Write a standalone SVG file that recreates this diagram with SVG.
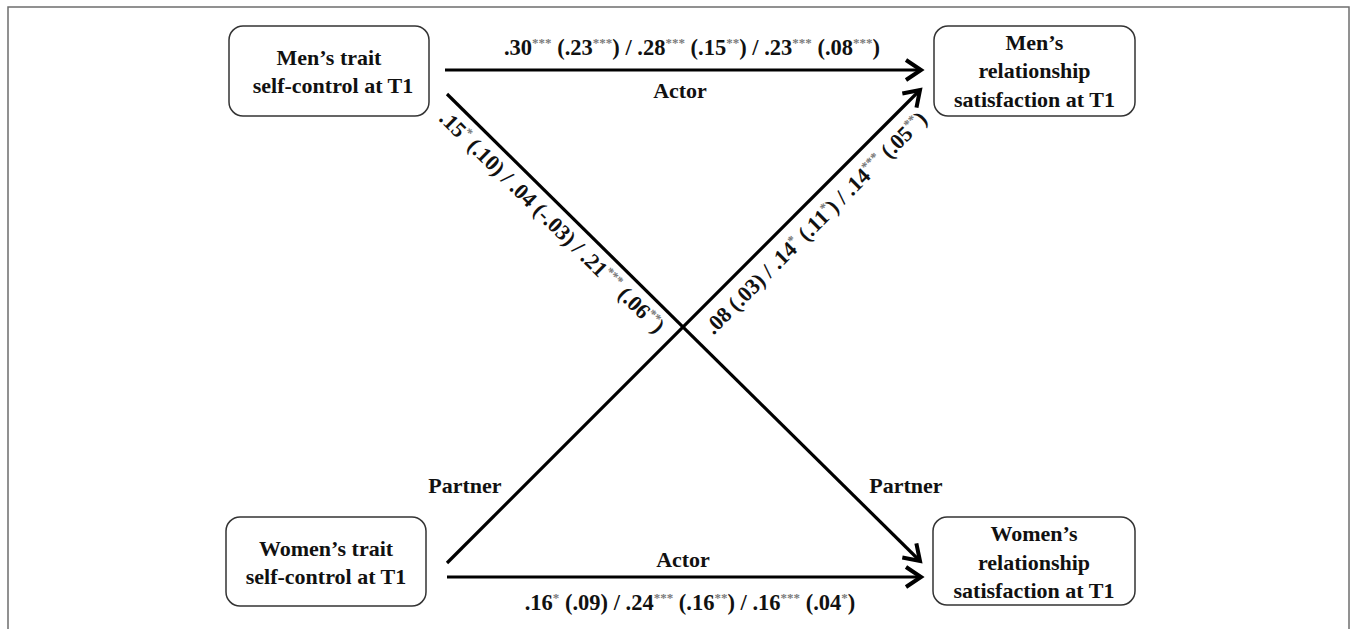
<svg xmlns="http://www.w3.org/2000/svg" width="1357" height="629" viewBox="0 0 1357 629">
<style>
.frame{fill:none;stroke:#6e6e6e;stroke-width:1.5}
.box{fill:#fff;stroke:#333;stroke-width:1.5}
.nt{font-family:"Liberation Serif","Times New Roman",serif;font-weight:bold;font-size:22px;fill:#111;text-anchor:middle}
.lab{font-family:"Liberation Serif","Times New Roman",serif;font-weight:bold;font-size:22px;fill:#111;text-anchor:middle}
.wide{font-size:22.5px}
.sup{font-size:13px;fill:#7a7a7a;baseline-shift:8px}
.ln{stroke:#000;stroke-width:3.2;fill:none}
</style>
<defs>
<marker id="arr" markerUnits="userSpaceOnUse" markerWidth="30" markerHeight="30" refX="0" refY="0" viewBox="-16 -12 20 24" orient="auto" overflow="visible">
<path d="M-12,-8 L0,0 L-12,8" fill="none" stroke="#000" stroke-width="3.2" stroke-linejoin="miter"/>
</marker>
</defs>
<rect class="frame" x="8" y="7" width="1341" height="640"/>
<g id="connectors">
<line class="ln" x1="445" y1="70" x2="921" y2="70" marker-end="url(#arr)"/>
<line class="ln" x1="447" y1="577" x2="921" y2="577" marker-end="url(#arr)"/>
<line class="ln" x1="447" y1="94" x2="920" y2="561" marker-end="url(#arr)"/>
<line class="ln" x1="447" y1="563" x2="920" y2="90" marker-end="url(#arr)"/>
<text class="lab wide" x="692" y="55">.30<tspan class="sup">***</tspan> (.23<tspan class="sup">***</tspan>) / .28<tspan class="sup">***</tspan> (.15<tspan class="sup">**</tspan>) / .23<tspan class="sup">***</tspan> (.08<tspan class="sup">***</tspan>)</text>
<text class="lab" x="680" y="98">Actor</text>
<text class="lab" x="683" y="567">Actor</text>
<text class="lab wide" x="690" y="610">.16<tspan class="sup">*</tspan> (.09) / .24<tspan class="sup">***</tspan> (.16<tspan class="sup">**</tspan>) / .16<tspan class="sup">***</tspan> (.04<tspan class="sup">*</tspan>)</text>
<text class="lab" x="465" y="493">Partner</text>
<text class="lab" x="906" y="493">Partner</text>
<text class="lab" transform="translate(547,227) rotate(44.6)">.15<tspan class="sup">*</tspan> (.10) / .04 (-.03) / .21<tspan class="sup">***</tspan> (.06<tspan class="sup">**</tspan>)</text>
<text class="lab" transform="translate(821,228) rotate(-45)">.08 (.03) / .14<tspan class="sup">*</tspan> (.11<tspan class="sup">*</tspan>) / .14<tspan class="sup">***</tspan> (.05<tspan class="sup">**</tspan>)</text>
</g>
<g id="men-trait">
<rect class="box" x="229" y="26" width="200" height="90" rx="14"/>
<text class="nt" x="329" y="65">Men’s trait</text>
<text class="nt" x="333" y="93">self-control at T1</text>
</g>
<g id="men-satisfaction">
<rect class="box" x="934" y="26" width="201" height="90" rx="14"/>
<text class="nt" x="1034.5" y="50">Men’s</text>
<text class="nt" x="1034.5" y="78">relationship</text>
<text class="nt" x="1034.5" y="107">satisfaction at T1</text>
</g>
<g id="women-trait">
<rect class="box" x="226" y="517" width="200" height="89" rx="14"/>
<text class="nt" x="326" y="556">Women’s trait</text>
<text class="nt" x="326" y="584">self-control at T1</text>
</g>
<g id="women-satisfaction">
<rect class="box" x="933" y="517" width="202" height="88" rx="14"/>
<text class="nt" x="1034" y="541">Women’s</text>
<text class="nt" x="1034" y="570">relationship</text>
<text class="nt" x="1034" y="598">satisfaction at T1</text>
</g>
</svg>
